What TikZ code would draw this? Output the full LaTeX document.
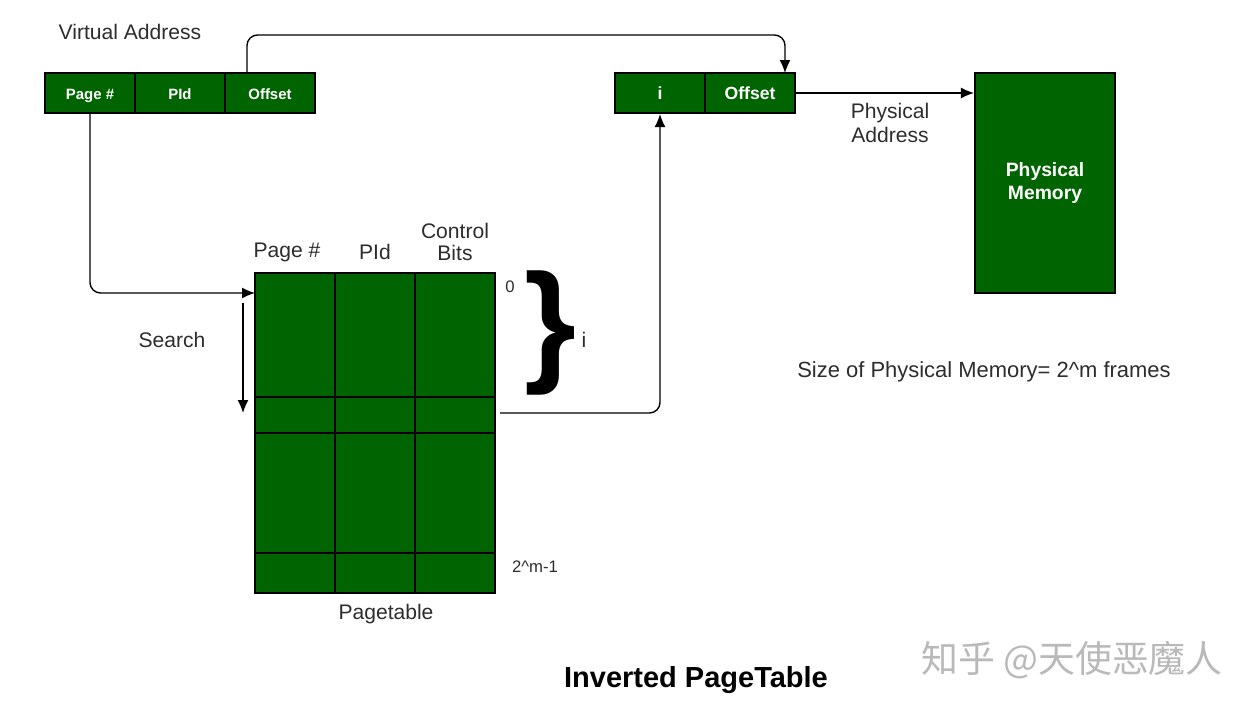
\documentclass[tikz,border=0pt]{standalone}
\usepackage{fontspec}
\setmainfont{Liberation Sans}
\newfontfamily\cjkfont{Noto Sans CJK SC}
\usetikzlibrary{arrows.meta}
\usetikzlibrary{positioning}
\definecolor{memgreen}{RGB}{0,100,0}
\definecolor{labelgray}{RGB}{45,45,45}
\tikzset{
cell/.style={draw=black, line width=1.2pt, fill=memgreen, text=white, minimum width=1.8cm, minimum height=0.8cm, inner sep=0pt, text height=1.6ex, text depth=0.3ex, font=\fontsize{8.5}{10}\selectfont\bfseries},
tag/.style={text=labelgray, align=center, font=\fontsize{12}{14}\selectfont},
link/.style={line width=0.8pt, rounded corners=6pt, -{Latex[length=2.6mm,width=2.2mm]}},
grid/.style={line width=1.2pt}
}

\begin{document}
\begin{tikzpicture}[x=0.02cm, y=-0.02cm]
    \useasboundingbox (0,0) rectangle (1256,710);

                % virtual address
                \node[tag] (vtitle) at (130,32) {Virtual Address};
                \node[cell] (vpage) at (90,93) {Page \#};
                \node[cell] (vpid) at (180,93) {PId};
                \node[cell] (voff) at (270,93) {Offset};

                % physical address
                \node[cell, font=\fontsize{10}{12}\selectfont\bfseries] (pi) at (660,93) {i};
                \node[cell, font=\fontsize{10}{12}\selectfont\bfseries] (poff) at (750,93) {Offset};
                \node[tag] (paddr) at (890,123) {Physical\\Address};

                % physical memory
                \node[cell, minimum width=2.8cm, minimum height=4.4cm, align=center, text height=, text depth=, font=\fontsize{11}{13}\selectfont\bfseries] (pmem) at (1045,183) {Physical\\Memory};
                \node[tag, font=\fontsize{12.5}{14}\selectfont] (psize) at (984,372) {Size of Physical Memory= 2\textasciicircum m frames};

                % page table
                \node[draw=black, line width=1.2pt, fill=memgreen, minimum width=4.8cm, minimum height=6.4cm, inner sep=0pt] (table) at (375,433) {};
                \draw[grid] (335,273) -- (335,593);
                \draw[grid] (415,273) -- (415,593);
                \draw[grid] (255,397) -- (495,397);
                \draw[grid] (255,433) -- (495,433);
                \draw[grid] (255,553) -- (495,553);
                \node[tag] (hpage) at (287,252) {Page \#};
                \node[tag] (hpid) at (375,252) {PId};
                \node[tag, font=\fontsize{12}{13}\selectfont] (hbits) at (455,242) {Control\\Bits};
                \node[tag, font=\fontsize{9.5}{11}\selectfont] (rzero) at (510,287) {0};
                \node[tag, font=\fontsize{9.5}{11}\selectfont] (rlast) at (535,567) {2\textasciicircum m-1};
                \node[text=black, font=\fontsize{76}{76}\selectfont\bfseries] (brace) at (550,333) {\}};
                \node[tag] (ilabel) at (584,340) {i};
                \node[tag] (ptname) at (386,614) {Pagetable};
                \node[tag] (search) at (172,340) {Search};

                \node[text=black, font=\fontsize{16.5}{19}\selectfont\bfseries] (title) at (696,680) {Inverted PageTable};
                \node[text={rgb,255:red,185;green,185;blue,185}, font=\cjkfont\fontsize{21}{24}\selectfont] (mark) at (1072,660) {知乎 @天使恶魔人};

                % connectors
                \coordinate (voffout) at (247,73);
                \coordinate (offin) at (785,73);
                \coordinate (tabin) at (255,293);
                \coordinate (rowi) at (500,413);
                \coordinate (stop) at (243,303);
                \coordinate (sbot) at (243,413);

                \draw[link] (voffout) -- (247,35) -| (offin);
                \draw[link] (vpage.south) |- (tabin);
                \draw[link] (rowi) -| (pi.south);
                \draw[link] (poff.east) -- (pmem.west |- poff.east);
                \draw[link, rounded corners=0pt] (stop) -- (sbot);

            \end{tikzpicture}
\end{document}
